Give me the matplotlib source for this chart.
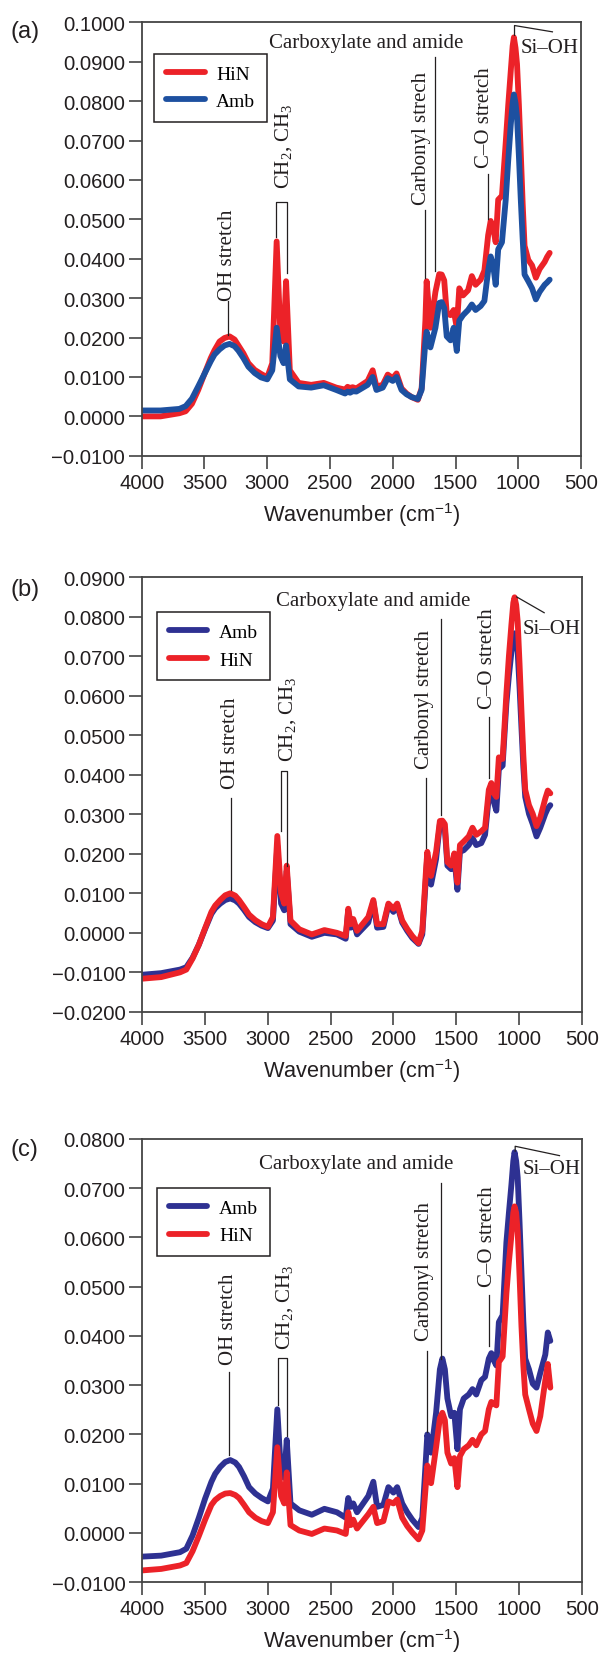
import matplotlib
matplotlib.use('Agg')
import matplotlib.pyplot as plt
from matplotlib.ticker import MultipleLocator, FuncFormatter

plt.rcParams['font.family'] = ['Liberation Sans', 'DejaVu Sans']
plt.rcParams['mathtext.fontset'] = 'custom'
plt.rcParams['mathtext.rm'] = 'Liberation Serif'
plt.rcParams['mathtext.sf'] = 'Liberation Sans'

# wavenumber grid (cm-1), shared by all spectra
wavenumber = [4000, 3850, 3700, 3650, 3600, 3550, 3500, 3450,
              3420, 3380, 3340, 3300, 3260, 3230, 3190, 3150, 3100, 3050,
              3000, 2960, 2925, 2895, 2870, 2850, 2820, 2750, 2650, 2550,
              2450, 2380, 2360, 2340, 2320, 2290, 2200, 2160, 2130, 2080,
              2040, 2000, 1970, 1930, 1890, 1850, 1800, 1770, 1740, 1730,
              1700, 1660, 1630, 1610, 1590, 1570, 1540, 1515, 1490, 1470,
              1440, 1400, 1370, 1340, 1300, 1270, 1240, 1220, 1200, 1180,
              1160, 1130, 1100, 1080, 1060, 1045, 1035, 1022, 1010, 995,
              980, 965, 950, 920, 890, 860, 830, 790, 770, 750]

# (a)
hin_a = [0.0000, 0.0000, 0.0008, 0.0013, 0.0032, 0.0067, 0.0108, 0.0148,
         0.0168, 0.0190, 0.0199, 0.0203, 0.0195, 0.0180, 0.0160, 0.0135, 0.0118, 0.0108,
         0.0099, 0.0135, 0.0444, 0.0207, 0.0190, 0.0343, 0.0117, 0.0085, 0.0080, 0.0085,
         0.0073, 0.0068, 0.0075, 0.0072, 0.0074, 0.0071, 0.0090, 0.0117, 0.0076, 0.0080,
         0.0106, 0.0097, 0.0109, 0.0071, 0.0058, 0.0049, 0.0042, 0.0071, 0.0243, 0.0343,
         0.0225, 0.0316, 0.0361, 0.0360, 0.0345, 0.0261, 0.0257, 0.0270, 0.0225, 0.0325,
         0.0307, 0.0320, 0.0356, 0.0334, 0.0347, 0.0370, 0.0460, 0.0496, 0.0478, 0.0442,
         0.0550, 0.0560, 0.0695, 0.0790, 0.0876, 0.0940, 0.0962, 0.0935, 0.0894, 0.0790,
         0.0668, 0.0540, 0.0433, 0.0397, 0.0383, 0.0352, 0.0374, 0.0392, 0.0405, 0.0415]
amb_a = [0.0015, 0.0015, 0.0019, 0.0026, 0.0045, 0.0076, 0.0108, 0.0140,
         0.0157, 0.0170, 0.0180, 0.0184, 0.0178, 0.0167, 0.0148, 0.0126, 0.0110, 0.0099,
         0.0094, 0.0117, 0.0225, 0.0153, 0.0135, 0.0180, 0.0094, 0.0076, 0.0073, 0.0079,
         0.0067, 0.0058, 0.0063, 0.0060, 0.0064, 0.0063, 0.0080, 0.0100, 0.0067, 0.0073,
         0.0097, 0.0090, 0.0100, 0.0067, 0.0056, 0.0049, 0.0044, 0.0067, 0.0189, 0.0215,
         0.0175, 0.0225, 0.0288, 0.0290, 0.0275, 0.0203, 0.0193, 0.0225, 0.0166, 0.0243,
         0.0257, 0.0270, 0.0284, 0.0270, 0.0280, 0.0293, 0.0370, 0.0406, 0.0383, 0.0334,
         0.0424, 0.0442, 0.0550, 0.0650, 0.0740, 0.0795, 0.0817, 0.0795, 0.0759, 0.0660,
         0.0550, 0.0450, 0.0360, 0.0343, 0.0325, 0.0297, 0.0316, 0.0334, 0.0340, 0.0347]

# (b)
amb_b = [-0.0106, -0.0102, -0.0093, -0.0087, -0.0063, -0.0030, 0.0010, 0.0048,
         0.0062, 0.0074, 0.0083, 0.0087, 0.0082, 0.0074, 0.0058, 0.0040, 0.0027, 0.0018,
         0.0012, 0.0031, 0.0220, 0.0074, 0.0057, 0.0157, 0.0022, 0.0003, -0.0010, 0.0000,
         -0.0004, -0.0015, 0.0057, 0.0013, 0.0030, -0.0004, 0.0026, 0.0079, 0.0013, 0.0015,
         0.0070, 0.0053, 0.0070, 0.0026, 0.0005, -0.0013, -0.0028, -0.0004, 0.0144, 0.0196,
         0.0122, 0.0187, 0.0275, 0.0272, 0.0262, 0.0170, 0.0161, 0.0192, 0.0109, 0.0205,
         0.0209, 0.0222, 0.0240, 0.0222, 0.0227, 0.0248, 0.0344, 0.0362, 0.0331, 0.0309,
         0.0414, 0.0423, 0.0580, 0.0650, 0.0710, 0.0745, 0.0758, 0.0745, 0.0710, 0.0620,
         0.0519, 0.0420, 0.0344, 0.0301, 0.0275, 0.0244, 0.0266, 0.0301, 0.0315, 0.0323]
hin_b = [-0.0116, -0.0112, -0.0100, -0.0093, -0.0065, -0.0030, 0.0012, 0.0053,
         0.0069, 0.0083, 0.0095, 0.0100, 0.0094, 0.0083, 0.0065, 0.0046, 0.0032, 0.0022,
         0.0015, 0.0040, 0.0245, 0.0100, 0.0074, 0.0170, 0.0031, 0.0009, -0.0004, 0.0007,
         0.0000, -0.0008, 0.0061, 0.0022, 0.0035, 0.0005, 0.0040, 0.0083, 0.0022, 0.0022,
         0.0074, 0.0061, 0.0074, 0.0031, 0.0010, -0.0008, -0.0026, 0.0005, 0.0161, 0.0205,
         0.0144, 0.0205, 0.0283, 0.0284, 0.0275, 0.0179, 0.0170, 0.0201, 0.0127, 0.0222,
         0.0231, 0.0244, 0.0266, 0.0248, 0.0257, 0.0266, 0.0362, 0.0379, 0.0353, 0.0344,
         0.0444, 0.0440, 0.0605, 0.0700, 0.0780, 0.0835, 0.0849, 0.0830, 0.0788, 0.0680,
         0.0562, 0.0450, 0.0362, 0.0323, 0.0301, 0.0270, 0.0292, 0.0340, 0.0360, 0.0353]

# (c)
amb_c = [-0.0048, -0.0046, -0.0039, -0.0032, -0.0005, 0.0031, 0.0070, 0.0104,
         0.0120, 0.0134, 0.0144, 0.0148, 0.0143, 0.0134, 0.0115, 0.0093, 0.0080, 0.0071,
         0.0064, 0.0090, 0.0251, 0.0119, 0.0112, 0.0189, 0.0060, 0.0046, 0.0037, 0.0049,
         0.0042, 0.0031, 0.0071, 0.0053, 0.0060, 0.0042, 0.0075, 0.0104, 0.0053, 0.0057,
         0.0093, 0.0082, 0.0093, 0.0060, 0.0042, 0.0027, 0.0012, 0.0031, 0.0156, 0.0200,
         0.0163, 0.0244, 0.0332, 0.0354, 0.0332, 0.0273, 0.0237, 0.0244, 0.0170, 0.0251,
         0.0273, 0.0281, 0.0292, 0.0281, 0.0310, 0.0317, 0.0354, 0.0365, 0.0350, 0.0340,
         0.0428, 0.0442, 0.0590, 0.0650, 0.0707, 0.0755, 0.0773, 0.0755, 0.0722, 0.0630,
         0.0530, 0.0430, 0.0354, 0.0332, 0.0303, 0.0295, 0.0325, 0.0362, 0.0407, 0.0390]
hin_c = [-0.0076, -0.0073, -0.0066, -0.0061, -0.0037, -0.0006, 0.0027, 0.0057,
         0.0067, 0.0075, 0.0080, 0.0081, 0.0077, 0.0071, 0.0057, 0.0042, 0.0031, 0.0024,
         0.0020, 0.0042, 0.0174, 0.0075, 0.0060, 0.0123, 0.0016, 0.0005, -0.0002, 0.0009,
         0.0005, -0.0002, 0.0042, 0.0016, 0.0027, 0.0009, 0.0038, 0.0053, 0.0020, 0.0024,
         0.0064, 0.0060, 0.0068, 0.0031, 0.0014, 0.0001, -0.0013, 0.0005, 0.0104, 0.0137,
         0.0101, 0.0174, 0.0233, 0.0244, 0.0229, 0.0163, 0.0141, 0.0152, 0.0093, 0.0156,
         0.0170, 0.0178, 0.0189, 0.0178, 0.0200, 0.0207, 0.0251, 0.0266, 0.0262, 0.0259,
         0.0347, 0.0358, 0.0486, 0.0550, 0.0604, 0.0650, 0.0663, 0.0650, 0.0611, 0.0520,
         0.0420, 0.0340, 0.0281, 0.0251, 0.0222, 0.0207, 0.0237, 0.0310, 0.0343, 0.0295]

RED = '#EC2228'
BLUE_A = '#1D50A0'
NAVY = '#2E3192'
INK = '#231F20'
SERIF = ['Liberation Serif', 'DejaVu Serif']
ANN = 15
LW = 4.2


def fmt_y(v, pos):
    if abs(v) < 1e-9:
        v = 0.0
    return '{:.4f}'.format(v).replace('-', '\u2212')


def style_axes(ax, ylim):
    ax.set_xlim(4000, 500)
    ax.set_ylim(*ylim)
    ax.xaxis.set_major_locator(MultipleLocator(500))
    ax.yaxis.set_major_locator(MultipleLocator(0.01))
    ax.yaxis.set_major_formatter(FuncFormatter(fmt_y))
    ax.tick_params(direction='out', length=9.7, width=1.2, color='#444444',
                   labelsize=14.6, labelcolor=INK, pad=2.5)
    for s in ax.spines.values():
        s.set_color('#444444')
        s.set_linewidth(1.3)
    ax.set_xlabel('Wavenumber (cm$^{\\mathsf{-1}}$)', fontsize=15.7, color=INK, labelpad=6)


def spectrum(ax, values, color, label):
    ax.plot(wavenumber, values, color=color, lw=LW, label=label,
            solid_capstyle='round', solid_joinstyle='round')


def vlabel(ax, x, y0, y1, text, xt, yt):
    # vertical leader line and rotated label above it
    ax.plot([x, x], [y0, y1], color=INK, lw=0.9)
    ax.text(xt, yt, text, rotation=90, ha='center', va='bottom', fontsize=ANN,
            family=SERIF, color=INK)


def annotate(ax, oh, ch, carbonyl, carbox, co, sioh):
    vlabel(ax, oh[0], oh[1], oh[2], 'OH stretch', oh[3], oh[4])
    x1, x2, top, b1, b2, xt, yt = ch
    ax.plot([x1, x1, x2, x2], [b1, top, top, b2], color=INK, lw=0.9)
    ax.text(xt, yt, 'CH$_2$, CH$_3$', rotation=90, ha='center', va='bottom',
            fontsize=ANN, family=SERIF, color=INK)
    vlabel(ax, *carbonyl)
    xc, y0, y1, xt, yt = carbox
    ax.plot([xc, xc], [y0, y1], color=INK, lw=0.9)
    ax.text(xt, yt, 'Carboxylate and amide', ha='center', va='center',
            fontsize=ANN, family=SERIF, color=INK)
    vlabel(ax, co[0], co[1], co[2], 'C\u2013O stretch', co[3], co[4])
    lx, ly, xt, yt = sioh
    ax.plot(lx, ly, color=INK, lw=0.9)
    ax.text(xt, yt, 'Si\u2013OH', ha='left', va='center',
            fontsize=ANN, family=SERIF, color=INK)


def draw_legend(ax, anchor):
    leg = ax.legend(loc='upper left', bbox_to_anchor=anchor, fancybox=False,
                    edgecolor=INK, framealpha=1, prop={'family': SERIF, 'size': 14},
                    handlelength=2.0, borderpad=0.6, labelspacing=0.5,
                    handletextpad=0.6, borderaxespad=0)
    leg.get_frame().set_linewidth(1.1)


fig = plt.figure(figsize=(6.0, 16.58), dpi=100)
ax_a = fig.add_axes([0.2362, 0.7245, 0.7322, 0.2614])
ax_b = fig.add_axes([0.2373, 0.3891, 0.7322, 0.2622])
ax_c = fig.add_axes([0.2373, 0.0451, 0.7322, 0.2674])

# panel (a)
spectrum(ax_a, hin_a, RED, 'HiN')
spectrum(ax_a, amb_a, BLUE_A, 'Amb')
style_axes(ax_a, (-0.01, 0.10))
draw_legend(ax_a, (0.028, 0.928))
annotate(ax_a,
         oh=(3315, 0.0207, 0.0292, 3315, 0.0295),
         ch=(2930, 2840, 0.0543, 0.0456, 0.0365, 2867, 0.0580),
         carbonyl=(1743, 0.0352, 0.0523, 'Carbonyl strech', 1770, 0.0540),
         carbox=(1661, 0.0370, 0.0912, 2209, 0.0950),
         co=(1240, 0.0500, 0.0614, 1268, 0.0632),
         sioh=([1030, 1030, 728], [0.0967, 0.0992, 0.0976], 985, 0.0935))

# panel (b)
spectrum(ax_b, amb_b, NAVY, 'Amb')
spectrum(ax_b, hin_b, RED, 'HiN')
style_axes(ax_b, (-0.02, 0.09))
draw_legend(ax_b, (0.033, 0.920))
annotate(ax_b,
         oh=(3296, 0.0109, 0.0340, 3296, 0.0366),
         ch=(2893, 2847, 0.0410, 0.0257, 0.0170, 2840, 0.0436),
         carbonyl=(1741, 0.0214, 0.0392, 'Carbonyl stretch', 1750, 0.0418),
         carbox=(1622, 0.0297, 0.0793, 2161, 0.0841),
         co=(1238, 0.0392, 0.0545, 1247, 0.0570),
         sioh=([1018, 799], [0.0850, 0.0810], 972, 0.0771))

# panel (c)
spectrum(ax_c, amb_c, NAVY, 'Amb')
spectrum(ax_c, hin_c, RED, 'HiN')
style_axes(ax_c, (-0.01, 0.08))
draw_legend(ax_c, (0.033, 0.8895))
annotate(ax_c,
         oh=(3311, 0.0159, 0.0326, 3311, 0.0343),
         ch=(2921, 2847, 0.0356, 0.0259, 0.0196, 2863, 0.0373),
         carbonyl=(1735, 0.0204, 0.0369, 'Carbonyl stretch', 1750, 0.0391),
         carbox=(1619, 0.0354, 0.0711, 2299, 0.0749),
         co=(1238, 0.0380, 0.0483, 1247, 0.0501),
         sioh=([1030, 1030, 677], [0.0775, 0.0785, 0.0766], 972, 0.0740))

for lab, y in (('(a)', 32), ('(b)', 590), ('(c)', 1150)):
    fig.text(11 / 600, 1 - y / 1658, lab, fontsize=17, color=INK, va='center', ha='left')

fig.savefig('out.png', dpi=100)
